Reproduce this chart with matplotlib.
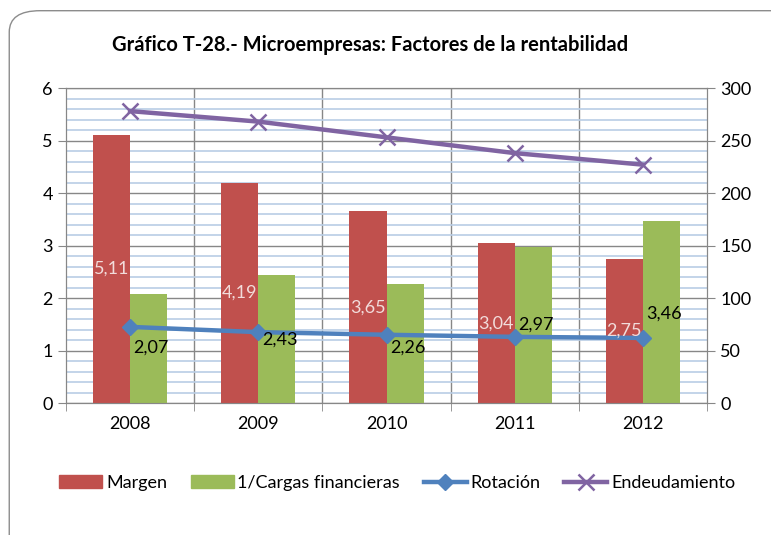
import matplotlib
matplotlib.use("Agg")
import matplotlib.pyplot as plt
from matplotlib.patches import FancyBboxPatch
from matplotlib.lines import Line2D
from matplotlib.patches import Patch
import numpy as np

years = ["2008", "2009", "2010", "2011", "2012"]
margen = [5.11, 4.19, 3.65, 3.04, 2.75]
cargas = [2.07, 2.43, 2.26, 2.97, 3.46]
rotacion = [1.45, 1.35, 1.30, 1.26, 1.24]
endeudamiento = [278, 268, 253, 238, 227]
margen_labels = ["5,11", "4,19", "3,65", "3,04", "2,75"]
cargas_labels = ["2,07", "2,43", "2,26", "2,97", "3,46"]
cargas_label_y = [1.05, 1.20, 1.05, 1.49, 1.71]

plt.rcParams['font.family'] = ['Lato', 'DejaVu Sans']

RED = "#C0504D"
GREEN = "#9BBB59"
BLUE = "#4F81BD"
PURPLE = "#8064A2"
GRID = "#878787"
MINOR = "#B9CDE5"
FS = 13

fig = plt.figure(figsize=(7.71, 5.35), dpi=100)
border = FancyBboxPatch((0.012, -0.05), 1.03, 1.03, boxstyle="round,pad=0,rounding_size=0.04",
                        transform=fig.transFigure, facecolor="none", edgecolor="#8c8c8c", lw=1.0)
fig.patches.append(border)

ax = fig.add_axes([0.0856, 0.2467, 0.8314, 0.5888])
ax2 = ax.twinx()

x = np.arange(len(years))
w = 0.29
ax.bar(x - w/2, margen, w, color=RED, zorder=3)
ax.bar(x + w/2, cargas, w, color=GREEN, zorder=3)
ax.plot(x, rotacion, color=BLUE, lw=3.2, marker="D", ms=8, zorder=4)

for i in range(len(years)):
    ax.text(x[i] - w/2, margen[i]/2, margen_labels[i], ha="center", va="center",
            color="#F2DCDB", fontsize=FS, zorder=6)
    ax.text(x[i] + w/2 + 0.02, cargas_label_y[i], cargas_labels[i], ha="center", va="center",
            color="black", fontsize=FS, zorder=6)

ax.set_xlim(-0.5, 4.5)
ax.set_ylim(0, 6)
ax.set_yticks(range(0, 7))
ax.set_yticks(np.arange(0, 6.01, 0.2), minor=True)
ax.grid(which="minor", axis="y", color=MINOR, lw=1.2, zorder=0)
ax.grid(which="major", axis="y", color=GRID, lw=1.0, zorder=1)
ax.set_xticks(x)
ax.set_xticklabels(years)
ax.set_xticks(np.arange(-0.5, 4.6, 1.0), minor=True)
ax.tick_params(axis="x", which="major", length=0, labelsize=FS, pad=9)
ax.tick_params(axis="x", which="minor", length=6, color=GRID)
ax.tick_params(axis="y", which="major", length=6, color=GRID, labelsize=FS)
ax.tick_params(axis="y", which="minor", length=0)
for xv in np.arange(0.5, 4.5, 1.0):
    ax.axvline(xv, color=GRID, lw=1.0, zorder=1)
for s in ax.spines.values():
    s.set_color(GRID)

ax2.plot(x, endeudamiento, color=PURPLE, lw=3.2, marker="x", ms=11, mew=1.8, zorder=4)
ax2.set_ylim(0, 300)
ax2.set_yticks(range(0, 301, 50))
ax2.tick_params(axis="y", length=6, color=GRID, labelsize=FS)
for s in ax2.spines.values():
    s.set_color(GRID)

fig.text(0.48, 0.915, "Gráfico T-28.- Microempresas: Factores de la rentabilidad",
         ha="center", va="center", fontsize=14.5, fontweight="bold")

handles = [Patch(color=RED), Patch(color=GREEN),
           Line2D([], [], color=BLUE, lw=3.2, marker="D", ms=8),
           Line2D([], [], color=PURPLE, lw=3.2, marker="x", ms=11, mew=1.8)]
labels = ["Margen", "1/Cargas financieras", "Rotación", "Endeudamiento"]
fig.legend(handles, labels, loc="center", bbox_to_anchor=(0.515, 0.097), ncol=4, frameon=False,
           fontsize=FS, handlelength=2.4, handletextpad=0.2, columnspacing=1.3)

fig.savefig("out.png", dpi=100)
